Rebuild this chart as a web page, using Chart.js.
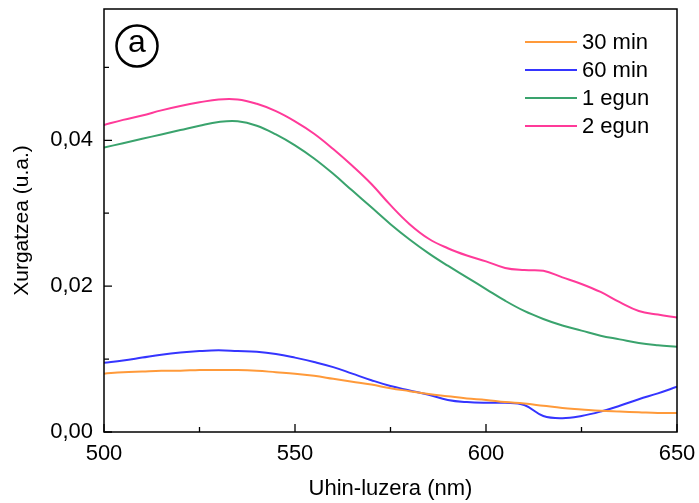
<!DOCTYPE html>
<html>
<head>
<meta charset="utf-8">
<script src="https://cdn.jsdelivr.net/npm/chart.js@4.4.1/dist/chart.umd.min.js"></script>
<style>
  html, body { margin: 0; padding: 0; background: #fff; }
  #wrap { width: 699px; height: 503px; position: relative; }
</style>
</head>
<body>
<div id="wrap"><canvas id="chart"></canvas></div>
<script>
'use strict';

/* Uhin-luzerak (nm) */
const wavelengths = [500, 505, 510, 515, 520, 525, 530, 535, 540, 545, 550, 555, 560, 565, 570,
  575, 580, 585, 590, 595, 600, 605, 610, 615, 620, 625, 630, 635, 640, 645, 650];

/* Xurgatzea, serie bakoitza */
const abs30min = [0.0080, 0.0082, 0.0083, 0.0084, 0.0084, 0.0085, 0.0085, 0.0085, 0.0084, 0.0082,
  0.0080, 0.0077, 0.0073, 0.0069, 0.0065, 0.0060, 0.0056, 0.0052, 0.0049, 0.0046,
  0.0044, 0.0041, 0.0039, 0.0036, 0.0033, 0.0031, 0.0029, 0.0028, 0.0027, 0.0026, 0.0026];
const abs60min = [0.0095, 0.0098, 0.0102, 0.0106, 0.0109, 0.0111, 0.0112, 0.0111, 0.0110, 0.0107,
  0.0102, 0.0096, 0.0089, 0.0080, 0.0071, 0.0063, 0.0057, 0.0051, 0.0044, 0.0041,
  0.0040, 0.0040, 0.0037, 0.0022, 0.0019, 0.0022, 0.0028, 0.0036, 0.0045, 0.0053, 0.0062];
const abs1egun = [0.0390, 0.0396, 0.0402, 0.0408, 0.0414, 0.0420, 0.0425, 0.0426, 0.0420, 0.0408,
  0.0393, 0.0375, 0.0354, 0.0331, 0.0308, 0.0285, 0.0264, 0.0245, 0.0228, 0.0212,
  0.0196, 0.0180, 0.0166, 0.0155, 0.0146, 0.0139, 0.0132, 0.0127, 0.0122, 0.0119, 0.0117];
const abs2egun = [0.0421, 0.0428, 0.0434, 0.0441, 0.0447, 0.0452, 0.0456, 0.0456, 0.0450, 0.0440,
  0.0426, 0.0409, 0.0388, 0.0365, 0.0340, 0.0311, 0.0285, 0.0265, 0.0252, 0.0242,
  0.0234, 0.0225, 0.0222, 0.0221, 0.0212, 0.0203, 0.0192, 0.0178, 0.0166, 0.0161, 0.0157];

const seriesLabels = ['30 min', '60 min', '1 egun', '2 egun'];
const seriesColors = ['#FF9A3A', '#3535FF', '#3AA36D', '#FF3A99'];

/* Ardatzetako markak */
const xMajorTicks = [500, 550, 600, 650];
const xMinorTicks = [525, 575, 625];
const yMajorTicks = [0, 0.02, 0.04];
const yMinorTicks = [0.01, 0.03, 0.05];

const FONT = 'Liberation Sans, Arial, sans-serif';

const toPoints = arr => arr.map((v, i) => ({ x: wavelengths[i], y: v }));
const allSeries = [abs30min, abs60min, abs1egun, abs2egun];

/* Markoa, barruko markak, legenda eta (a) etiketa */
const framePlugin = {
  id: 'frame',
  afterDraw(chart) {
    const { ctx, chartArea: a, scales: { x, y } } = chart;
    ctx.save();
    ctx.strokeStyle = '#000';
    ctx.lineWidth = 1.5;
    ctx.strokeRect(a.left, a.top, a.right - a.left, a.bottom - a.top);

    ctx.lineWidth = 1.3;
    ctx.beginPath();
    xMajorTicks.forEach(v => { const p = x.getPixelForValue(v); ctx.moveTo(p, a.bottom); ctx.lineTo(p, a.bottom - 8); });
    xMinorTicks.forEach(v => { const p = x.getPixelForValue(v); ctx.moveTo(p, a.bottom); ctx.lineTo(p, a.bottom - 5); });
    yMajorTicks.forEach(v => { const p = y.getPixelForValue(v); ctx.moveTo(a.left, p); ctx.lineTo(a.left + 8, p); });
    yMinorTicks.forEach(v => { const p = y.getPixelForValue(v); ctx.moveTo(a.left, p); ctx.lineTo(a.left + 5, p); });
    ctx.stroke();

    /* Legenda */
    ctx.font = '22px ' + FONT;
    ctx.textBaseline = 'middle';
    ctx.textAlign = 'left';
    chart.data.datasets.forEach((ds, i) => {
      const ly = 42 + i * 28;
      ctx.strokeStyle = ds.borderColor;
      ctx.lineWidth = 2;
      ctx.beginPath();
      ctx.moveTo(525, ly);
      ctx.lineTo(577, ly);
      ctx.stroke();
      ctx.fillStyle = '#000';
      ctx.fillText(ds.label, 582, ly + 1);
    });

    /* (a) etiketa */
    ctx.strokeStyle = '#000';
    ctx.lineWidth = 2.5;
    ctx.beginPath();
    ctx.arc(137, 46, 20.5, 0, Math.PI * 2);
    ctx.stroke();
    ctx.fillStyle = '#000';
    ctx.font = '32px ' + FONT;
    ctx.textAlign = 'center';
    ctx.fillText('a', 137, 43);
    ctx.restore();
  },
};

new Chart(document.getElementById('chart'), {
  type: 'line',
  data: {
    datasets: allSeries.map((s, i) => ({
      label: seriesLabels[i],
      data: toPoints(s),
      borderColor: seriesColors[i],
      backgroundColor: seriesColors[i],
      borderWidth: 2,
      pointRadius: 0,
      tension: 0.4,
      fill: false,
    })),
  },
  options: {
    responsive: true,
    maintainAspectRatio: false,
    animation: false,
    layout: { padding: { left: 0, right: 22, top: 9, bottom: 0 } },
    plugins: {
      legend: { display: false },
      tooltip: { enabled: false },
    },
    scales: {
      x: {
        type: 'linear',
        min: 500,
        max: 650,
        afterBuildTicks: s => { s.ticks = xMajorTicks.map(v => ({ value: v })); },
        afterFit: s => { s.height = 71; s.paddingLeft = 0; s.paddingRight = 0; },
        grid: { display: false, drawTicks: false },
        border: { display: false },
        ticks: { color: '#000', font: { family: FONT, size: 22 }, padding: 9, maxRotation: 0 },
        title: {
          display: true,
          text: 'Uhin-luzera (nm)',
          color: '#000',
          font: { family: FONT, size: 22 },
          padding: { top: 0, bottom: 1 },
        },
      },
      y: {
        min: 0,
        max: 0.058,
        afterBuildTicks: s => { s.ticks = yMajorTicks.map(v => ({ value: v })); },
        afterFit: s => { s.width = 104; s.paddingTop = 0; s.paddingBottom = 0; },
        grid: { display: false, drawTicks: false },
        border: { display: false },
        ticks: {
          color: '#000',
          font: { family: FONT, size: 22 },
          padding: 11,
          callback: v => v.toFixed(2).replace('.', ','),
        },
        title: {
          display: true,
          text: 'Xurgatzea (u.a.)',
          color: '#000',
          font: { family: FONT, size: 21 },
          padding: { top: 10, bottom: 0 },
        },
      },
    },
  },
  plugins: [framePlugin],
});
</script>
</body>
</html>
